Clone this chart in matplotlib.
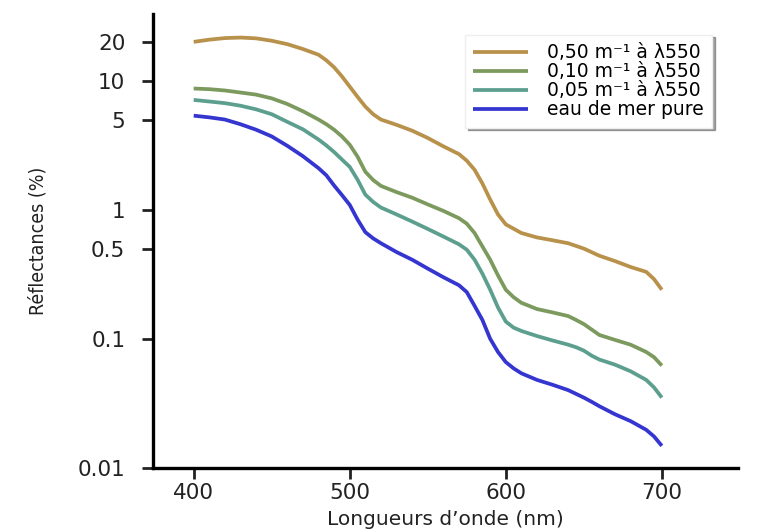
import matplotlib

matplotlib.use("Agg")
import matplotlib.pyplot as plt

# wavelengths (nm) and reflectances (%)
wl_050 = [400, 410, 420, 430, 440, 450, 460, 470, 480, 485, 490, 495, 500, 505,
          510, 515, 520, 530, 540, 550, 560, 570, 575, 580, 585, 590, 595, 600,
          610, 620, 630, 640, 650, 660, 670, 680, 690, 695, 700]
r_050 = [20.0, 20.8, 21.4, 21.6, 21.3, 20.4, 19.2, 17.6, 15.9, 14.4, 12.7, 10.8,
         9.0, 7.5, 6.3, 5.5, 5.0, 4.55, 4.1, 3.6, 3.1, 2.7, 2.4, 2.04, 1.6, 1.2,
         0.92, 0.77, 0.66, 0.61, 0.58, 0.55, 0.5, 0.44, 0.4, 0.36, 0.33, 0.29, 0.24]

wl_010 = [400, 410, 420, 430, 440, 450, 460, 470, 480, 485, 490, 495, 500, 505,
          510, 515, 520, 530, 540, 550, 560, 570, 575, 580, 585, 590, 595, 600,
          605, 610, 620, 630, 640, 645, 650, 655, 660, 670, 680, 690, 695, 700]
r_010 = [8.7, 8.6, 8.4, 8.1, 7.8, 7.3, 6.6, 5.8, 5.0, 4.6, 4.17, 3.7, 3.19, 2.58,
         1.97, 1.7, 1.53, 1.37, 1.24, 1.1, 0.98, 0.86, 0.78, 0.66, 0.52, 0.41,
         0.31, 0.24, 0.21, 0.19, 0.17, 0.16, 0.15, 0.14, 0.13, 0.118, 0.107,
         0.098, 0.09, 0.079, 0.072, 0.062]

wl_005 = [400, 410, 420, 430, 440, 450, 460, 470, 480, 485, 490, 495, 500, 505,
          510, 515, 520, 530, 540, 550, 560, 570, 575, 580, 585, 590, 595, 600,
          605, 610, 620, 630, 640, 645, 650, 655, 660, 670, 680, 690, 695, 700]
r_005 = [7.1, 6.9, 6.7, 6.4, 6.0, 5.5, 4.8, 4.2, 3.5, 3.15, 2.8, 2.45, 2.15,
         1.71, 1.31, 1.15, 1.04, 0.92, 0.81, 0.71, 0.62, 0.54, 0.49, 0.41, 0.32,
         0.24, 0.175, 0.136, 0.122, 0.115, 0.105, 0.097, 0.09, 0.086, 0.081,
         0.074, 0.069, 0.063, 0.056, 0.048, 0.042, 0.035]

wl_pure = [400, 410, 420, 430, 440, 450, 460, 470, 480, 485, 490, 495, 500, 505,
           510, 515, 520, 530, 540, 550, 560, 570, 575, 580, 585, 590, 595, 600,
           605, 610, 620, 630, 640, 650, 655, 660, 670, 680, 690, 695, 700]
r_pure = [5.36, 5.2, 5.0, 4.6, 4.17, 3.7, 3.13, 2.6, 2.1, 1.85, 1.54, 1.3, 1.09,
          0.84, 0.67, 0.6, 0.55, 0.47, 0.41, 0.35, 0.30, 0.26, 0.23, 0.18, 0.14,
          0.10, 0.079, 0.066, 0.059, 0.054, 0.048, 0.044, 0.040, 0.035, 0.0325,
          0.030, 0.026, 0.023, 0.0197, 0.0175, 0.0148]

labels = ["0,50 m⁻¹ à λ550", "0,10 m⁻¹ à λ550",
          "0,05 m⁻¹ à λ550", "eau de mer pure"]
yticks = [0.01, 0.1, 0.5, 1, 5, 10, 20]
ytick_labels = ["0.01", "0.1", "0.5", "1", "5", "10", "20"]
xticks = [400, 500, 600, 700]

colors = ["#B8914B", "#7C9A5E", "#5C9F8E", "#3535D0"]

fig = plt.figure(figsize=(7.58, 5.31), dpi=100)
ax = fig.add_axes([0.202, 0.119, 0.772, 0.855])

series = [(wl_050, r_050), (wl_010, r_010), (wl_005, r_005), (wl_pure, r_pure)]
for (x, y), c, lab in zip(series, colors, labels):
    ax.plot(x, y, color=c, lw=2.7, label=lab, solid_joinstyle="round",
            solid_capstyle="butt")

ax.set_yscale("log")
ax.set_xlim(374, 749)
ax.set_ylim(0.01, 33)
ax.set_yticks(yticks)
ax.set_yticklabels(ytick_labels)
ax.minorticks_off()
ax.set_xticks(xticks)

for side in ["top", "right"]:
    ax.spines[side].set_visible(False)
for side in ["left", "bottom"]:
    ax.spines[side].set_linewidth(2.4)
ax.tick_params(axis="both", direction="out", length=8, width=2, labelsize=15.5,
               colors="#222222", pad=3)
ax.tick_params(axis="y", pad=12)

ax.set_xlabel("Longueurs d’onde (nm)", fontsize=14.5, labelpad=5, color="#222222")
ax.set_ylabel("Réflectances (%)", fontsize=14, fontstretch="condensed",
              labelpad=22, color="#222222")

leg = ax.legend(loc="upper left", bbox_to_anchor=(0.533, 0.954), borderaxespad=0,
                fontsize=13.5, frameon=True, fancybox=False, shadow=True,
                handlelength=2.9, handletextpad=1.0, borderpad=0.45,
                labelspacing=0.0)
leg.get_frame().set_edgecolor("#eeeeee")

fig.savefig("out.png", dpi=100)
